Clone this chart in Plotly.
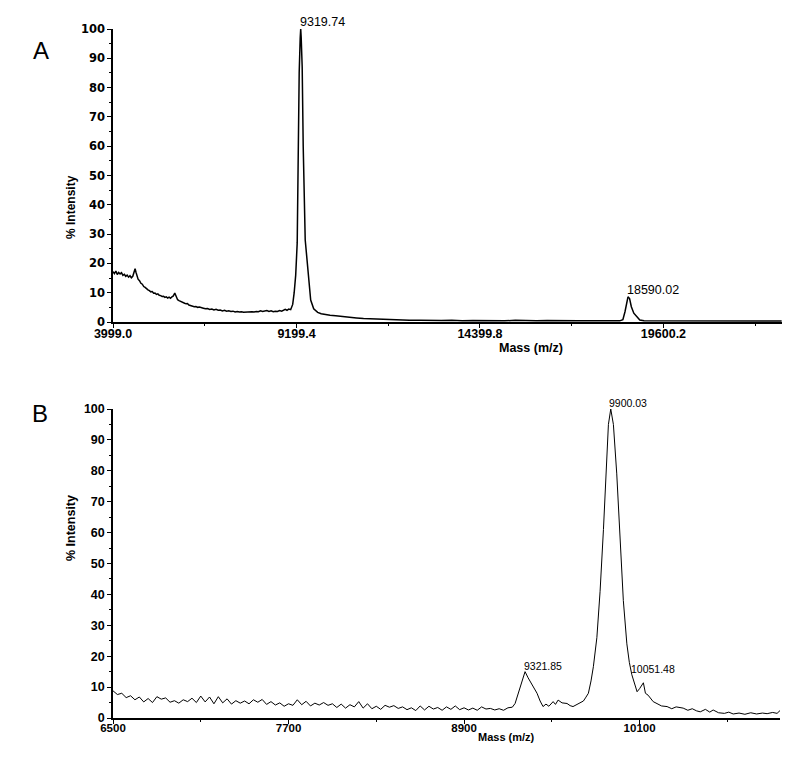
import plotly.graph_objects as go

# Panel A: full spectrum, masses (m/z) and % intensity
mass_a = [
    3999, 4040, 4080, 4120, 4160, 4200, 4240, 4280, 4320, 4360, 4400, 4440,
    4480, 4520, 4560, 4600, 4625, 4650, 4680, 4710, 4750, 4790, 4830, 4870,
    4910, 4950, 4990, 5030, 5070, 5110, 5150, 5190, 5230, 5270, 5310, 5350,
    5390, 5430, 5470, 5510, 5550, 5590, 5630, 5670, 5710, 5750, 5790, 5830,
    5870, 5910, 5950, 5990, 6030, 6070, 6110, 6150, 6200, 6250, 6300, 6350,
    6400, 6450, 6500, 6560, 6620, 6680, 6740, 6800, 6860, 6920, 6980, 7040,
    7100, 7160, 7220, 7280, 7340, 7400, 7460, 7520, 7580, 7640, 7700, 7760,
    7820, 7880, 7940, 8000, 8060, 8120, 8180, 8240, 8300, 8360, 8420, 8480,
    8540, 8600, 8660, 8720, 8780, 8840, 8880, 8930, 8980, 9035, 9092, 9134,
    9177, 9220, 9234, 9248, 9276, 9305, 9319, 9333, 9361, 9390, 9413, 9447,
    9481, 9526, 9560, 9602, 9687, 9800, 9900, 10027, 10150, 10310, 10500,
    10700, 10900, 11100, 11300, 11500, 11800, 12100, 12400, 12700, 13000,
    13300, 13600, 13900, 14200, 14500, 14800, 15100, 15400, 15700, 16000,
    16300, 16600, 16900, 17200, 17500, 17800, 18100, 18360, 18450, 18510,
    18560, 18595, 18640, 18690, 18760, 18840, 18930, 19050, 19300, 19600,
    19900, 20200, 20500, 20800, 21100, 21400, 21700, 22000, 22300, 22600,
    22950,
]
intensity_a = [
    17.2, 16.5, 17.4, 16.2, 16.9, 16.4, 16.8, 15.9, 16.3, 15.6, 16.0, 15.3,
    15.8, 15.1, 15.6, 16.9, 18.2, 17.0, 15.4, 14.6, 14.1, 13.2, 12.9, 12.1,
    11.8, 11.3, 11.0, 10.7, 10.3, 10.4, 9.8, 9.9, 9.4, 9.6, 9.1, 9.0,
    8.7, 8.8, 8.4, 8.6, 8.2, 8.5, 8.1, 8.6, 8.9, 9.9, 8.4, 7.6,
    7.3, 7.0, 6.8, 6.5, 6.4, 6.2, 6.3, 5.8, 5.6, 5.5, 5.2, 5.3,
    5.0, 5.1, 4.8, 4.7, 4.5, 4.6, 4.3, 4.4, 4.1, 4.3, 4.0, 4.1,
    3.8, 4.0, 3.7, 3.8, 3.6, 3.7, 3.4, 3.6, 3.4, 3.5, 3.3, 3.4,
    3.3, 3.4, 3.5, 3.4, 3.6, 3.5, 3.8, 3.6, 3.7, 3.9, 3.6, 3.8,
    3.5, 3.7, 3.6, 3.9, 3.7, 4.1, 4.3, 4.0, 4.4, 4.2, 6.0, 10.0,
    16.0, 27.0, 50.0, 68.0, 85.0, 97.0, 100.0, 97.0, 87.0, 60.0, 42.0, 28.0,
    23.5, 17.0, 11.0, 7.5, 4.5, 3.3, 2.8, 2.5, 2.3, 2.1, 1.8,
    1.6, 1.4, 1.2, 1.1, 1.0, 0.8, 0.7, 0.6, 0.6, 0.5,
    0.5, 0.6, 0.4, 0.5, 0.4, 0.5, 0.4, 0.6, 0.4, 0.4,
    0.5, 0.4, 0.5, 0.4, 0.4, 0.5, 0.4, 0.4, 0.8, 3.5,
    6.5, 8.6, 8.0, 5.2, 3.0, 1.8, 0.7, 0.4, 0.4, 0.5,
    0.4, 0.4, 0.3, 0.4, 0.3, 0.4, 0.3, 0.4, 0.3, 0.4,
    0.3,
]

# Panel B: zoomed spectrum
mass_b = [
    6500, 6530, 6560, 6590, 6620, 6650, 6680, 6710, 6740, 6770, 6800, 6830,
    6860, 6890, 6920, 6950, 6980, 7010, 7040, 7070, 7100, 7130, 7160, 7190,
    7220, 7250, 7280, 7310, 7340, 7370, 7400, 7430, 7460, 7490, 7520, 7550,
    7580, 7610, 7640, 7670, 7700, 7730, 7760, 7790, 7820, 7850, 7880, 7910,
    7940, 7970, 8000, 8030, 8060, 8090, 8120, 8150, 8180, 8210, 8240, 8270,
    8300, 8330, 8360, 8390, 8420, 8450, 8480, 8510, 8540, 8570, 8600, 8630,
    8660, 8690, 8720, 8750, 8780, 8810, 8840, 8870, 8900, 8930, 8960, 8990,
    9020, 9050, 9080, 9110, 9140, 9170, 9200, 9230, 9249, 9283, 9300, 9317,
    9338, 9355, 9372, 9399, 9420, 9440, 9460, 9480, 9509, 9525, 9543, 9570,
    9604, 9625, 9645, 9670, 9693, 9716, 9730, 9750, 9768, 9784, 9808, 9830,
    9853, 9871, 9887, 9903, 9921, 9944, 9967, 9989, 10013, 10030, 10047,
    10065, 10083, 10100, 10126, 10140, 10158, 10193, 10220, 10250, 10288,
    10320, 10350, 10398, 10430, 10460, 10490, 10515, 10550, 10580, 10603,
    10640, 10680, 10710, 10740, 10780, 10820, 10860, 10900, 10940, 10972,
    11010, 11040, 11060,
]
intensity_b = [
    8.8, 7.6, 8.0, 6.6, 7.2, 5.9, 6.8, 5.2, 6.3, 5.0, 6.9, 6.1,
    6.5, 5.1, 5.6, 4.8, 5.9, 5.3, 6.4, 5.0, 7.1, 5.2, 6.8, 4.6,
    6.9, 4.9, 6.2, 4.5, 5.6, 4.8, 5.5, 4.6, 5.9, 5.1, 6.0, 4.4,
    5.3, 4.2, 4.9, 3.8, 4.6, 4.1, 5.9, 4.3, 5.4, 3.9, 4.8, 4.2,
    5.0, 4.1, 4.6, 3.4, 4.5, 3.2, 4.3, 3.6, 5.3, 3.2, 4.6, 3.0,
    3.8, 2.8, 4.1, 3.5, 4.0, 3.1, 3.6, 2.7, 3.3, 2.4, 3.9, 2.6,
    3.8, 2.9, 3.4, 2.5, 3.6, 2.8, 3.9, 2.7, 3.3, 2.6, 3.2, 2.5,
    3.6, 2.9, 3.1, 2.6, 3.0, 2.5, 3.3, 3.5, 4.7, 10.0, 13.0, 15.0,
    13.0, 11.5, 10.0, 8.0, 5.5, 3.7, 4.5, 3.8, 5.3, 4.4, 5.8, 4.9,
    4.7, 4.0, 3.7, 4.3, 4.8, 5.5, 6.5, 8.0, 12.0, 16.6, 26.0, 41.0,
    61.0, 79.0, 95.0, 100.0, 95.0, 79.0, 57.6, 38.0, 24.0, 18.0, 14.0,
    11.0, 8.5, 9.5, 11.4, 8.0, 7.4, 5.3, 4.6, 3.9, 3.7,
    3.0, 3.6, 3.2, 2.5, 3.0, 2.3, 2.0, 2.8, 1.9, 2.6,
    1.7, 1.5, 1.9, 1.3, 1.6, 1.2, 1.7, 1.3, 1.6, 1.4,
    1.8, 1.5, 2.4,
]

# Labelled peaks
peaks_a = [(9319.74, 100.0, "9319.74"), (18590.02, 8.6, "18590.02")]
peaks_b = [(9900.03, 100.0, "9900.03"), (9317, 15.0, "9321.85"), (10047, 14.0, "10051.48")]

xticks_a = [3999.0, 9199.4, 14399.8, 19600.2]
xticks_b = [6500, 7700, 8900, 10100]
yticks = [0, 10, 20, 30, 40, 50, 60, 70, 80, 90, 100]

FONT = "Liberation Sans, Arial"
BOLD = dict(family=FONT, size=12, color="black", weight="bold")
WIDE_BOLD = dict(family="DejaVu Sans", size=11.5, color="black", weight="bold")

# the page body adds an 8px offset, so the figure is a bit smaller than the window
OFF = 8
W, H = 800 - OFF, 778 - OFF


def fx(px):
    return (px - OFF) / W


def fy(py):
    return 1 - (py - OFF) / H


fig = go.Figure()
fig.add_trace(go.Scatter(x=mass_a, y=intensity_a, mode="lines",
                         line=dict(color="black", width=1.5), xaxis="x", yaxis="y",
                         showlegend=False, hoverinfo="skip"))
fig.add_trace(go.Scatter(x=mass_b, y=intensity_b, mode="lines",
                         line=dict(color="black", width=1), xaxis="x2", yaxis="y2",
                         showlegend=False, hoverinfo="skip"))

axis_common = dict(
    showgrid=False, zeroline=False, showline=True, linecolor="black", linewidth=1.5,
    ticks="outside", ticklen=4, tickwidth=1, tickcolor="black",
    tickfont=BOLD, automargin=False,
    minor=dict(ticks="outside", ticklen=2, tickwidth=1, tickcolor="black"),
)

fig.update_layout(
    template="none",
    width=W, height=H,
    margin=dict(l=0, r=0, t=0, b=0, pad=0, autoexpand=False),
    paper_bgcolor="white", plot_bgcolor="white",
    xaxis=dict(axis_common, domain=[fx(113), fx(782)], range=[3999, 22960],
               anchor="y", tickvals=xticks_a, ticktext=[f"{v:.1f}" for v in xticks_a],
               tickfont=dict(BOLD, size=12.5), ticklabelstandoff=-5,
               minor=dict(axis_common["minor"], dtick=2600.2, tick0=3999.0)),
    yaxis=dict(axis_common, domain=[fy(322), fy(29)], range=[0, 100],
               anchor="x", tickvals=yticks, tickfont=WIDE_BOLD,
               minor=dict(axis_common["minor"], dtick=5, tick0=0)),
    xaxis2=dict(axis_common, domain=[fx(113), fx(780)], range=[6500, 11060],
                anchor="y2", tickvals=xticks_b, ticktext=[str(v) for v in xticks_b],
                tickfont=dict(BOLD, size=11.5), ticklabelstandoff=-6,
                minor=dict(axis_common["minor"], dtick=600, tick0=6500)),
    yaxis2=dict(axis_common, domain=[fy(718), fy(409)], range=[0, 100],
                anchor="x2", tickvals=yticks, tickfont=dict(BOLD, size=12.5),
                minor=dict(axis_common["minor"], dtick=5, tick0=0)),
)

annotations = []
for x, y, label in peaks_a:
    annotations.append(dict(x=x, y=y, xref="x", yref="y", text=label, showarrow=False,
                            xanchor="left", yanchor="bottom", xshift=-3, yshift=-2,
                            font=dict(family=FONT, size=12.5, color="black")))
for x, y, label in peaks_b:
    annotations.append(dict(x=x, y=y, xref="x2", yref="y2", text=label, showarrow=False,
                            xanchor="left", yanchor="bottom", xshift=-3, yshift=-2,
                            font=dict(family=FONT, size=10.5, color="black")))

# panel letters and axis titles
title_font = dict(family=FONT, size=11, color="black", weight="bold")
annotations += [
    dict(x=fx(31), y=fy(35), xref="paper", yref="paper", text="A", showarrow=False,
         font=dict(family=FONT, size=24, color="black")),
    dict(x=fx(30), y=fy(413), xref="paper", yref="paper", text="B", showarrow=False,
         font=dict(family=FONT, size=24, color="black")),
    dict(x=fx(62), y=fy(173), xref="paper", yref="paper", text="% Intensity",
         textangle=-90, showarrow=False, font=dict(title_font, size=12)),
    dict(x=fx(62), y=fy(563), xref="paper", yref="paper", text="% Intensity",
         textangle=-90, showarrow=False, font=dict(title_font, size=12.5)),
    dict(x=fx(565), y=fy(348), xref="paper", yref="paper", text="Mass (m/z)",
         showarrow=False, font=dict(title_font, size=12.5)),
    dict(x=fx(537), y=fy(745), xref="paper", yref="paper", text="Mass (m/z)",
         showarrow=False, font=title_font),
]
fig.update_layout(annotations=annotations)

fig.write_html("out.html")
